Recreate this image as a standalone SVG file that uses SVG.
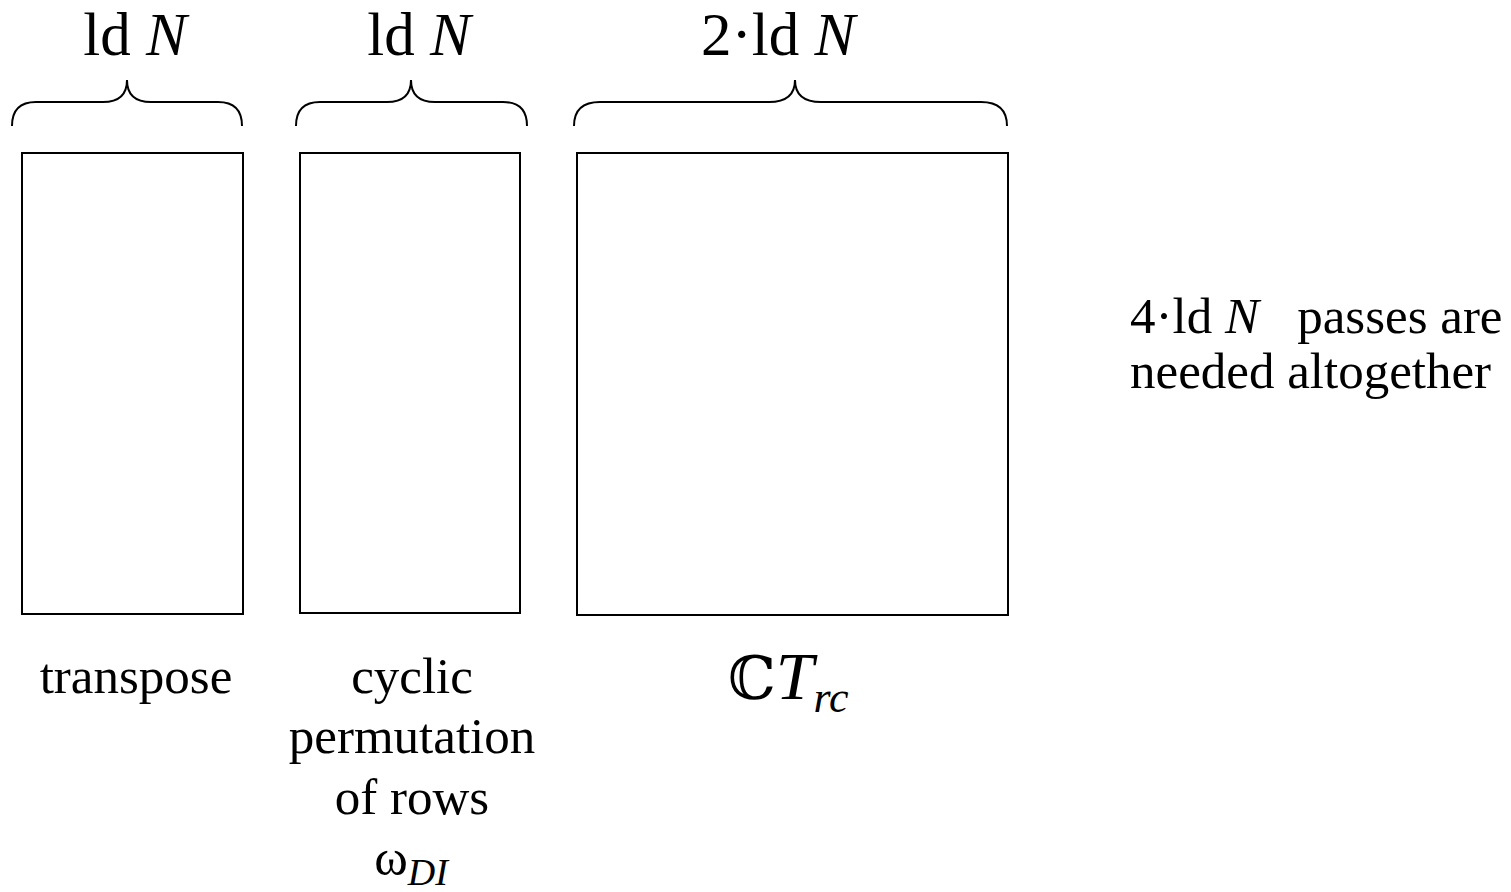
<svg xmlns="http://www.w3.org/2000/svg" width="1511" height="892" viewBox="0 0 1511 892">
<style>
text{font-family:"Liberation Serif","DejaVu Serif",serif;fill:#000}
.box{fill:#fff;stroke:#000;stroke-width:2}
.brace{fill:none;stroke:#000;stroke-width:2}
.top{font-size:61px;text-anchor:middle}
.lab{font-size:51px;text-anchor:middle}
</style>
<rect width="1511" height="892" fill="#fff"/>
<g id="connectors">
<path class="brace" d="M12,126 Q12,102 36,102 L103,102 Q127,102 127,80 Q127,102 151,102 L218,102 Q242,102 242,126"/>
<path class="brace" d="M296,126 Q296,102 320,102 L387,102 Q411,102 411,80 Q411,102 435,102 L503,102 Q527,102 527,126"/>
<path class="brace" d="M574,126 Q574,102 600,102 L769,102 Q795,102 795,80 Q795,102 821,102 L981,102 Q1007,102 1007,126"/>
</g>
<g id="label-top1"><text class="top" x="135" y="55" font-family="Liberation Serif">ld <tspan font-style="italic">N</tspan></text></g>
<g id="label-top2"><text class="top" x="419" y="55" font-family="Liberation Serif">ld <tspan font-style="italic">N</tspan></text></g>
<g id="label-top3"><text class="top" x="778" y="55" font-family="Liberation Serif">2·ld <tspan font-style="italic">N</tspan></text></g>
<g id="transpose">
<rect class="box" x="22" y="153" width="221" height="461"/>
<text class="lab" x="136" y="693" font-family="Liberation Serif">transpose</text>
</g>
<g id="cyclic">
<rect class="box" x="300" y="153" width="220" height="460"/>
<text class="lab" x="412" y="693" font-family="Liberation Serif">cyclic</text>
<text class="lab" x="412" y="753" font-family="Liberation Serif">permutation</text>
<text class="lab" x="412" y="814" font-family="Liberation Serif">of rows</text>
<text class="lab" x="411" y="875" font-family="Liberation Serif" font-size="58px">ω<tspan font-style="italic" font-size="38px" dy="10">DI</tspan></text>
</g>
<g id="ctrc">
<rect class="box" x="577" y="153" width="431" height="462"/>
<text x="728" y="699" font-size="60px" font-family="Liberation Serif"><tspan font-family="DejaVu Serif" font-size="60px">ℂ</tspan><tspan font-style="italic" font-size="68px">T</tspan><tspan font-style="italic" font-size="44px" dy="13">rc</tspan></text>
</g>
<g id="note">
<text x="1130" y="333" font-size="51px" font-family="Liberation Serif" xml:space="preserve">4·ld <tspan font-style="italic">N</tspan>   passes are</text>
<text x="1130" y="388" font-size="51px" font-family="Liberation Serif">needed altogether</text>
</g>
</svg>
